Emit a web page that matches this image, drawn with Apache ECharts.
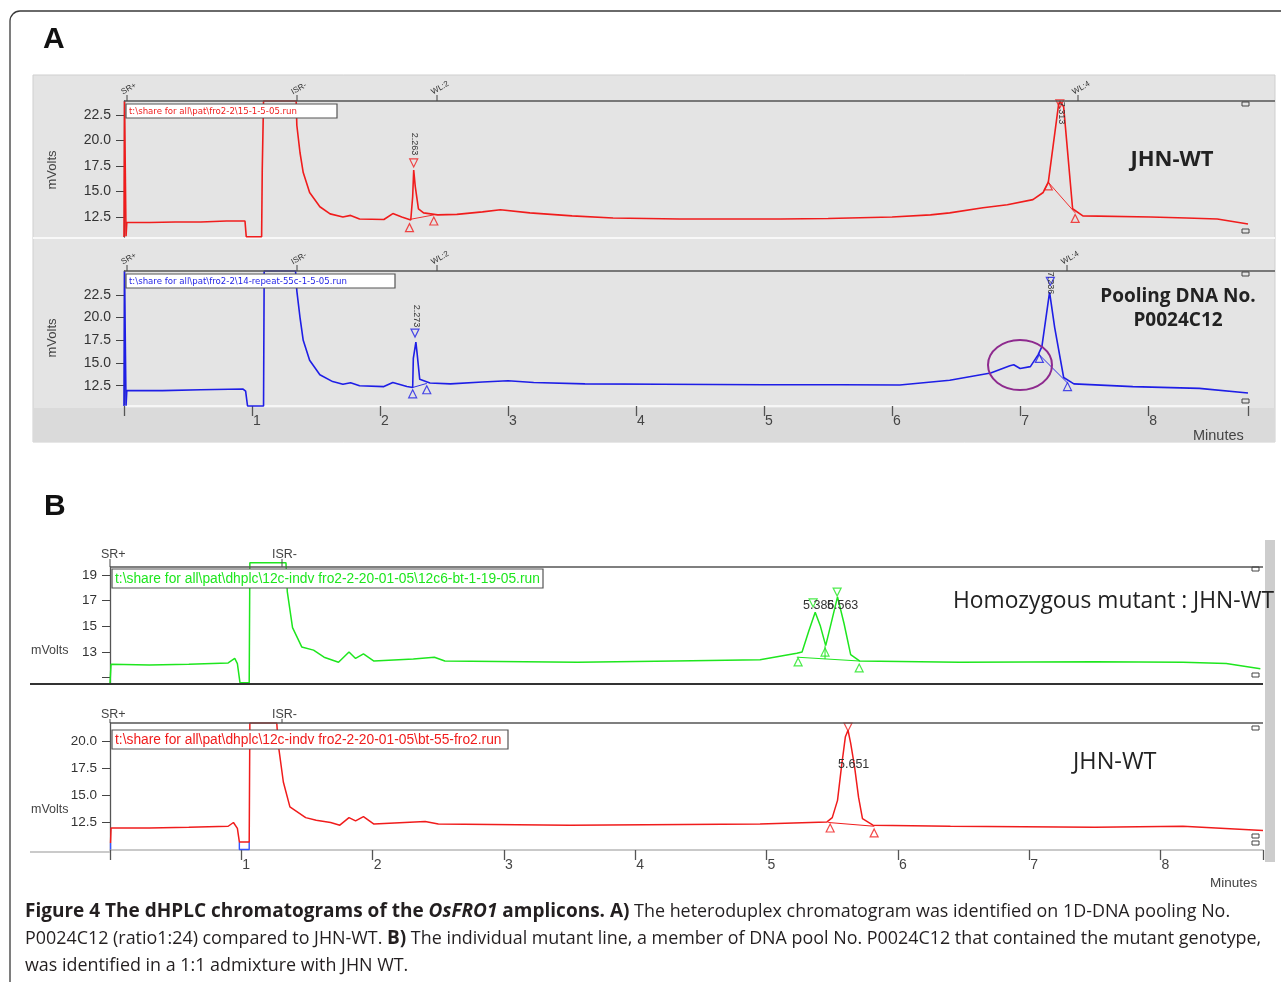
<!DOCTYPE html>
<html>
<head>
<meta charset="utf-8">
<script src="https://cdn.jsdelivr.net/npm/echarts@6/dist/echarts.min.js"></script>
<style>
  html, body { margin: 0; padding: 0; background: #fff; }
  #chart { width: 1281px; height: 982px; }
</style>
</head>
<body>
<div id="chart"></div>
<script>
// --- data (minutes, mVolts) ---
const wtA = [[0,10.53],[0.004,23.88],[0.012,23.88],[0.016,10.6],[0.022,11.95],[0.2,11.95],[0.4,12.0],[0.6,12.0],[0.8,12.1],[0.945,12.1],[0.955,10.55],[1.075,10.55],[1.08,17.2],[1.085,17.2],[1.09,23.88],[1.345,23.88],[1.35,21.5],[1.375,18.8],[1.4,16.85],[1.45,14.9],[1.53,13.5],[1.61,12.8],[1.71,12.5],[1.77,12.65],[1.84,12.3],[2.03,12.25],[2.1,12.83],[2.17,12.5],[2.24,12.2],[2.255,14.5],[2.263,17.1],[2.275,15.5],[2.3,13.3],[2.34,12.9],[2.45,12.7],[2.6,12.75],[2.8,13.0],[2.94,13.2],[3.17,12.9],[3.5,12.6],[3.82,12.4],[4.34,12.3],[5.13,12.3],[5.5,12.35],[6.0,12.5],[6.3,12.7],[6.45,12.9],[6.71,13.4],[6.9,13.7],[7.1,14.2],[7.18,14.9],[7.22,15.9],[7.3,23.5],[7.31,23.88],[7.325,23.88],[7.34,23.3],[7.41,13.3],[7.49,12.6],[8.02,12.5],[8.3,12.4],[8.54,12.3],[8.78,11.8]];
const poolA = [[0,10.26],[0.004,25.14],[0.012,25.14],[0.016,10.3],[0.022,11.95],[0.3,11.95],[0.6,12.05],[0.93,12.13],[0.95,11.9],[0.965,10.26],[1.09,10.26],[1.095,25.14],[1.34,25.14],[1.35,22.95],[1.375,20.0],[1.4,17.5],[1.45,15.3],[1.53,13.7],[1.63,12.95],[1.71,12.65],[1.77,12.83],[1.84,12.5],[2.03,12.4],[2.1,12.85],[2.21,12.4],[2.255,12.3],[2.26,15.5],[2.28,17.3],[2.29,16.0],[2.31,13.2],[2.39,12.8],[2.55,12.7],[2.8,12.9],[3.0,13.05],[3.2,12.85],[3.6,12.7],[4.2,12.65],[5.0,12.6],[5.6,12.6],[6.06,12.57],[6.45,13.1],[6.77,13.9],[6.92,14.7],[6.95,14.8],[7.0,14.4],[7.08,14.6],[7.14,15.9],[7.17,16.8],[7.23,22.8],[7.27,18.9],[7.34,13.4],[7.42,12.7],[7.88,12.4],[8.4,12.2],[8.78,11.7]];
const mutB = [[0,10.59],[0.008,12.05],[0.3,12.0],[0.6,12.05],[0.9,12.15],[0.95,12.5],[0.97,12.1],[0.99,10.6],[1.06,10.6],[1.065,19.95],[1.34,19.95],[1.35,17.7],[1.39,14.9],[1.46,13.4],[1.55,13.15],[1.63,12.6],[1.74,12.2],[1.82,13.0],[1.87,12.5],[1.93,12.85],[2.01,12.3],[2.31,12.45],[2.47,12.6],[2.55,12.3],[3.56,12.2],[4.3,12.3],[4.95,12.4],[5.23,12.9],[5.27,13.0],[5.32,14.6],[5.37,16.1],[5.41,15.0],[5.45,13.5],[5.5,15.6],[5.54,17.3],[5.59,15.2],[5.64,12.8],[5.71,12.3],[6.47,12.2],[7.5,12.25],[8.17,12.2],[8.5,12.1],[8.76,11.7]];
const wtB = [[0.004,10.55],[0.008,11.95],[0.3,11.95],[0.6,12.0],[0.9,12.1],[0.94,12.45],[0.97,11.9],[0.985,10.65],[1.06,10.65],[1.065,21.67],[1.27,21.67],[1.28,19.8],[1.32,16.2],[1.37,13.9],[1.49,12.9],[1.57,12.65],[1.68,12.45],[1.75,12.2],[1.82,12.9],[1.87,12.6],[1.93,13.0],[2.01,12.3],[2.4,12.55],[2.5,12.3],[3.5,12.2],[4.95,12.3],[5.46,12.5],[5.5,12.9],[5.54,14.5],[5.57,17.6],[5.6,20.4],[5.62,21.0],[5.64,19.8],[5.67,17.6],[5.7,14.8],[5.73,12.8],[5.81,12.2],[6.4,12.1],[7.5,12.0],[8.17,12.1],[8.78,11.7]];
const wtBClip = [[0.004,9.95],[0.004,10.55],null,[0.985,10.65],[0.985,9.95],[1.06,9.95],[1.06,10.65]];

// peak apex markers (inverted triangles) and peak start/end markers
const peakA1 = [[2.263,17.8],[7.31,23.6]];
const baseA1 = [[2.23,11.45],[2.42,12.1],[7.22,15.55],[7.43,12.35]];
const integA1 = [[2.23,12.25],[2.42,12.7],null,[7.22,15.9],[7.43,12.9]];
const peakA2 = [[2.273,18.3],[7.236,24.0]];
const baseA2 = [[2.255,11.6],[2.365,12.05],[7.15,15.5],[7.37,12.4]];
const integA2 = [[2.255,12.3],[2.365,12.75],null,[7.15,15.9],[7.37,12.8]];
const peakB1 = [[5.354,16.82],[5.537,17.67]];
const baseB1 = [[5.24,12.23],[5.445,13.0],[5.705,11.76]];
const integB1 = [[5.23,12.6],[5.71,12.3],null,[5.445,13.5],[5.445,12.45]];
const peakB2 = [[5.62,21.3]];
const baseB2 = [[5.484,11.94],[5.819,11.48]];
const integB2 = [[5.47,12.45],[5.82,12.1]];

// axis ranges and tick labels
const xMax = 8.78;
const minuteTicks = [0, 1, 2, 3, 4, 5, 6, 7, 8, 8.78];
const minuteLabels = [1, 2, 3, 4, 5, 6, 7, 8];
const yRangeA1 = [10.53, 23.88];
const yRangeA2 = [10.26, 25.14];
const yRangeB1 = [10.59, 19.62];
const yRangeB2 = [9.9, 21.67];
const yTicksA = [12.5, 15, 17.5, 20, 22.5];
const yTicksB1 = [11, 13, 15, 17, 19];
const yLabelsB1 = [13, 15, 17, 19];
const yTicksB2 = [12.5, 15, 17.5, 20];

const RED = '#f01c1c', BLUE = '#1e1ee6', GREEN = '#1ee61e';
const SANS = '"Liberation Sans", Arial, sans-serif';
const CAP = '"Open Sans", "Noto Sans", sans-serif';

const chart = echarts.init(document.getElementById('chart'));

const grids = [
  { left: 124, top: 101, width: 1124, height: 136 },
  { left: 124, top: 271, width: 1124, height: 135 },
  { left: 110, top: 567, width: 1153, height: 116 },
  { left: 110, top: 723, width: 1153, height: 127 }
];

const xAxes = grids.map((g, i) => {
  const shown = i === 1 || i === 3;
  return {
    type: 'value', gridIndex: i, min: 0, max: xMax, show: shown,
    splitLine: { show: false },
    axisLine: { lineStyle: { color: i === 1 ? '#f6f6f6' : '#b8b8b8', width: i === 1 ? 2 : 1.5 } },
    axisTick: { customValues: minuteTicks, length: 10, lineStyle: { color: '#555', width: 1.3 } },
    axisLabel: {
      customValues: minuteLabels, align: 'left', margin: 8, padding: [0, 0, 0, 1],
      color: '#444', fontSize: 14, fontFamily: SANS
    }
  };
});

function yAxis(i, range, ticks, labels, digits, fs) {
  return {
    type: 'value', gridIndex: i, min: range[0], max: range[1],
    splitLine: { show: false },
    axisLine: { show: true, lineStyle: { color: '#555', width: 1.3 } },
    axisTick: { customValues: ticks, length: 8, lineStyle: { color: '#444' } },
    axisLabel: {
      customValues: labels, margin: 13, color: '#333', fontSize: fs, fontFamily: SANS,
      formatter: v => Number(v).toFixed(digits)
    }
  };
}
const yAxes = [
  yAxis(0, yRangeA1, yTicksA, yTicksA, 1, 14),
  yAxis(1, yRangeA2, yTicksA, yTicksA, 1, 14),
  yAxis(2, yRangeB1, yTicksB1, yLabelsB1, 0, 13.5),
  yAxis(3, yRangeB2, yTicksB2, yTicksB2, 1, 13.5)
];

const series = [];
function trace(data, i, color, width) {
  series.push({
    type: 'line', xAxisIndex: i, yAxisIndex: i, data: data, symbol: 'none', clip: false,
    connectNulls: false, silent: true, z: 3, lineStyle: { color: color, width: width }
  });
}
function marks(data, i, color, down) {
  series.push({
    type: 'scatter', xAxisIndex: i, yAxisIndex: i, data: data, symbol: 'triangle',
    symbolSize: [8, 8], symbolRotate: down ? 180 : 0, silent: true, z: 4,
    itemStyle: { color: 'rgba(0,0,0,0)', borderColor: color, borderWidth: 1.2 }
  });
}
trace(wtA, 0, RED, 1.6);
trace(integA1, 0, RED, 0.9);
marks(peakA1, 0, RED, true);
marks(baseA1, 0, RED, false);
trace(poolA, 1, BLUE, 1.6);
trace(integA2, 1, BLUE, 0.9);
marks(peakA2, 1, BLUE, true);
marks(baseA2, 1, BLUE, false);
trace(mutB, 2, GREEN, 1.5);
trace(integB1, 2, GREEN, 1);
marks(peakB1, 2, GREEN, true);
marks(baseB1, 2, GREEN, false);
trace(wtBClip, 3, '#3355ff', 1.4);
trace(wtB, 3, RED, 1.5);
trace(integB2, 3, RED, 1);
marks(peakB2, 3, RED, true);
marks(baseB2, 3, RED, false);

// --- decorations ---
const g = [];
function text(x, y, s, style, extra) {
  g.push(Object.assign({
    type: 'text', x: x, y: y, z: 100,
    style: Object.assign({
      text: s, fill: '#333', fontSize: 12, fontFamily: SANS,
      align: 'left', textAlign: 'left', verticalAlign: 'middle', textVerticalAlign: 'middle'
    }, style)
  }, extra || {}));
}
function line(x1, y1, x2, y2, color, w, z) {
  g.push({ type: 'line', z: z === undefined ? 50 : z, shape: { x1, y1, x2, y2 }, style: { stroke: color, lineWidth: w } });
}
function rect(x, y, w, h, fill, stroke, z, lw) {
  g.push({ type: 'rect', z: z, shape: { x, y, width: w, height: h }, style: { fill: fill, stroke: stroke, lineWidth: lw || 1 } });
}
function fileBox(x, y, w, h, s, color, fs, family) {
  rect(x, y, w, h, '#fff', '#555', 90, 1.2);
  text(x + 3, y + h / 2 + 0.5, s, { fill: color, fontSize: fs, fontFamily: family });
}
function smallBox(x, y) { rect(x, y, 7, 4, 'none', '#444', 60, 1); }

// outer frame
g.push({ type: 'rect', z: -5, shape: { x: 10, y: 11, width: 1300, height: 1010, r: 10 }, style: { fill: '#fff', stroke: '#3a3a3a', lineWidth: 1.3 } });

// panel A background
rect(33, 75, 1242, 367, '#e4e4e4', '#cfcfcf', -4, 1);
rect(33, 408, 1242, 34, '#dadada', null, -3);
line(33, 238, 1275, 238, '#f8f8f8', 2, -2);
line(124, 101, 1275, 101, '#555', 1.4);
line(124, 271, 1275, 271, '#555', 1.4);

text(43, 40, 'A', { fontSize: 30, fontWeight: 'bold', fill: '#111', fontFamily: SANS });
text(44, 507, 'B', { fontSize: 30, fontWeight: 'bold', fill: '#111', fontFamily: SANS });

// mVolts titles
text(52, 170, 'mVolts', { fontSize: 13, fill: '#444', align: 'center', textAlign: 'center' }, { rotation: Math.PI / 2 });
text(52, 338, 'mVolts', { fontSize: 13, fill: '#444', align: 'center', textAlign: 'center' }, { rotation: Math.PI / 2 });
text(31, 651, 'mVolts', { fontSize: 12.5, fill: '#444' });
text(31, 810, 'mVolts', { fontSize: 12.5, fill: '#444' });

// event marks above panel A traces
function evMark(x, yTop, s) {
  line(x, yTop - 6, x, yTop, '#444', 1);
  text(x - 3, yTop - 5, s, { fontSize: 8, fill: '#333', verticalAlign: 'bottom', textVerticalAlign: 'bottom' }, { rotation: Math.PI / 6 });
}
evMark(127, 101, 'SR+'); evMark(297, 101, 'ISR-'); evMark(437, 101, 'WL:2'); evMark(1078, 101, 'WL:4');
evMark(127, 271, 'SR+'); evMark(297, 271, 'ISR-'); evMark(437, 271, 'WL:2'); evMark(1067, 271, 'WL:4');

// event marks above panel B traces
text(101, 555, 'SR+', { fontSize: 12.5, fill: '#444' });
text(272, 555, 'ISR-', { fontSize: 12.5, fill: '#444' });
text(101, 715, 'SR+', { fontSize: 12.5, fill: '#444' });
text(272, 715, 'ISR-', { fontSize: 12.5, fill: '#444' });
line(110, 559, 110, 567, '#444', 1); line(282, 559, 282, 567, '#444', 1);
line(110, 719, 110, 723, '#444', 1); line(282, 719, 282, 723, '#444', 1);

// file name boxes
fileBox(126, 104, 211, 14, 't:\\share for all\\pat\\fro2-2\\15-1-5-05.run', RED, 8.6, '"DejaVu Sans", sans-serif');
fileBox(126, 274, 269, 14, 't:\\share for all\\pat\\fro2-2\\14-repeat-55c-1-5-05.run', BLUE, 8.6, '"DejaVu Sans", sans-serif');
fileBox(112, 569, 431, 19, 't:\\share for all\\pat\\dhplc\\12c-indv fro2-2-20-01-05\\12c6-bt-1-19-05.run', GREEN, 13.8, SANS);
fileBox(112, 730, 396, 19, 't:\\share for all\\pat\\dhplc\\12c-indv fro2-2-20-01-05\\bt-55-fro2.run', RED, 13.8, SANS);

// peak retention labels
const vlab = { fontSize: 9, fill: '#333', align: 'center', textAlign: 'center' };
text(414, 144, '2.263', vlab, { rotation: -Math.PI / 2 });
text(1061, 113, '7.313', vlab, { rotation: -Math.PI / 2 });
text(416, 316, '2.273', vlab, { rotation: -Math.PI / 2 });
text(1050, 283, '7.236', vlab, { rotation: -Math.PI / 2 });
text(803, 606, '5.386', { fontSize: 12.5, fill: '#333' });
text(827, 606, '5.563', { fontSize: 12.5, fill: '#333' });
text(838, 765, '5.651', { fontSize: 12.5, fill: '#333' });

// small end-of-trace boxes
smallBox(1242, 102); smallBox(1242, 229);
smallBox(1242, 272); smallBox(1242, 399);
smallBox(1252, 567); smallBox(1252, 673);
smallBox(1252, 726); smallBox(1252, 834); smallBox(1252, 841);

// panel B frame lines
line(110, 567, 1263, 567, '#555', 1.3);
line(30, 684, 1263, 684, '#333', 2);
line(110, 723, 1263, 723, '#555', 1.3);
line(30, 852, 110, 852, '#b8b8b8', 1.5);
rect(1265, 540, 10, 322, '#cdcdcd', null, 40);

// sample names
text(1172, 160, 'JHN-WT', { fontSize: 22, fontWeight: 'bold', fill: '#222', fontFamily: CAP, align: 'center', textAlign: 'center' });
text(1178, 297, 'Pooling DNA No.', { fontSize: 19, fontWeight: 'bold', fill: '#222', fontFamily: CAP, align: 'center', textAlign: 'center' });
text(1178, 321, 'P0024C12', { fontSize: 19, fontWeight: 'bold', fill: '#222', fontFamily: CAP, align: 'center', textAlign: 'center' });
text(953, 602, 'Homozygous mutant : JHN-WT', { fontSize: 22.8, fill: '#222', fontFamily: CAP });
text(1073, 762, 'JHN-WT', { fontSize: 23.5, fill: '#222', fontFamily: CAP });

text(1193, 436, 'Minutes', { fontSize: 14.5, fill: '#444' });
text(1210, 883, 'Minutes', { fontSize: 13.5, fill: '#444' });

// highlighted heteroduplex hump
g.push({ type: 'ellipse', z: 80, shape: { cx: 1020, cy: 365, rx: 32, ry: 25 }, style: { fill: 'none', stroke: '#8e2a8e', lineWidth: 2 } });

// caption
const capRich = {
  b: { fontWeight: 'bold', fontSize: 19, fontFamily: CAP, fill: '#231f20' },
  bi: { fontWeight: 'bold', fontStyle: 'italic', fontSize: 19, fontFamily: CAP, fill: '#231f20' },
  n: { fontSize: 17.9, fontFamily: CAP, fill: '#231f20' }
};
function capLine(y, s) {
  g.push({ type: 'text', x: 25, y: y, z: 100, style: { text: s, rich: capRich, verticalAlign: 'middle', textVerticalAlign: 'middle' } });
}
capLine(912, '{b|Figure 4 The dHPLC chromatograms of the }{bi|OsFRO1}{b| amplicons. A)}{n| The heteroduplex chromatogram was identified on 1D-DNA pooling No.}');
capLine(939, '{n|P0024C12 (ratio1:24) compared to JHN-WT. }{b|B)}{n| The individual mutant line, a member of DNA pool No. P0024C12 that contained the mutant genotype,}');
capLine(966, '{n|was identified in a 1:1 admixture with JHN WT.}');

chart.setOption({
  animation: false,
  backgroundColor: '#fff',
  grid: grids,
  xAxis: xAxes,
  yAxis: yAxes,
  series: series,
  graphic: { elements: g }
});
</script>
</body>
</html>
